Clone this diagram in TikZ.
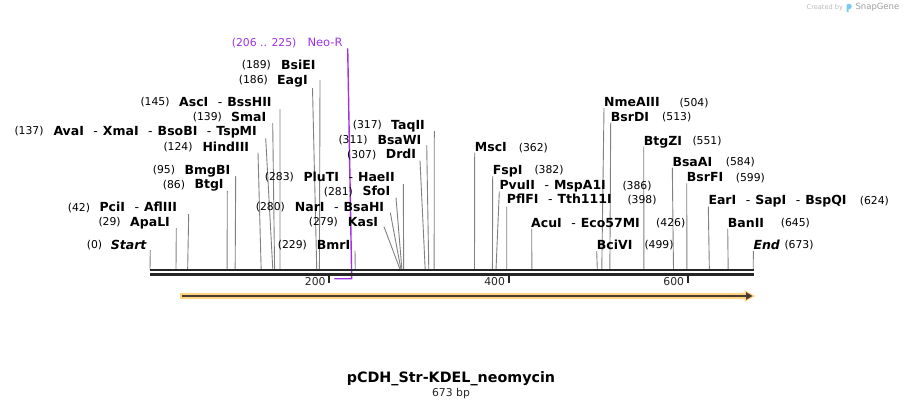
\documentclass[tikz,border=0pt]{standalone}
\usepackage{fontspec}
\setmainfont{DejaVu Sans}
\definecolor{leadgray}{RGB}{128,128,128}
\definecolor{axisdark}{RGB}{38,38,38}
\definecolor{neopurple}{RGB}{160,50,230}
\definecolor{orangeband}{RGB}{255,210,128}
\definecolor{arrowdark}{RGB}{72,60,48}
\definecolor{logoblue}{RGB}{125,200,240}
\newcommand\dsep{\hspace{9.5pt}\textmd{-}\hspace{5pt}}
\begin{document}
\begin{tikzpicture}[x=1pt,y=-1pt,
  num/.style={anchor=west,inner sep=0pt,text height=7.9pt,text depth=0pt,font=\fontsize{10.8}{12}\selectfont,text=black},
  lab/.style={anchor=west,inner sep=0pt,text height=9pt,text depth=0pt,font=\bfseries\fontsize{12.5}{14}\selectfont,text=black},
  leader/.style={draw=leadgray,line width=0.9pt},
  axisline/.style={draw=axisdark,line width=2.2pt},
  tickmark/.style={draw=axisdark,line width=1.8pt},
  ticklab/.style={anchor=east,inner sep=0pt,text height=7.9pt,text depth=0pt,font=\fontsize{10.8}{12}\selectfont,text=axisdark}]
\path[use as bounding box] (0,0) rectangle (904,408);

% Neo-R feature
\node[num,text=neopurple] (neonum) at (231.7,42.3) {(206 .. 225)};
\node[anchor=west,inner sep=0pt,text height=8.4pt,text depth=0pt,font=\fontsize{11.5}{13}\selectfont,text=neopurple] (neolab) at (307.3,42.3) {Neo-R};
\coordinate (neotop) at (347.7,48.3);
\coordinate (neobot) at (351.7,278.7);
\coordinate (neoleft) at (334.3,278.7);
\draw[neopurple,line width=1.4pt] (neotop) -- (neobot) -- (neoleft);

% enzyme sites
\foreach \id/\nx/\nt/\lx/\lt/\y/\sx/\sy/\bp in {
 bsiei/241.7/(189)/281/BsiEI/64.7/320/80/189,
 eagi/238.7/(186)/277/EagI/80/312.5/88/186,
 asci/140.3/(145)/179/AscI\dsep BssHII/101.7/280/109/145,
 smai/192.7/(139)/231/SmaI/117/272.7/123/139,
 avai/14.3/(137)/53.3/AvaI\dsep XmaI\dsep BsoBI\dsep TspMI/130.7/265.7/138/137,
 hind/163.3/(124)/202.3/HindIII/146.7/258/152.7/124,
 bmgbi/152.7/(95)/184.3/BmgBI/170/235.7/176/95,
 btgi/162.7/(86)/194.3/BtgI/184.3/227.3/191/86,
 pcii/67.7/(42)/99.3/PciI\dsep AflIII/207.3/188.7/214/42,
 apali/98.3/(29)/130/ApaLI/221.7/176.3/228/29,
 start/86.7/(0)/110.7/\textit{Start}/244.7/150.3/250/0,
 pluti/264.7/(283)/303.3/PluTI\dsep HaeII/177/403.3/184/283,
 sfoi/323.7/(281)/362.3/SfoI/191.3/396/197.7/281,
 nari/255.7/(280)/294.7/NarI\dsep BsaHI/206.7/390.3/212.7/280,
 kasi/308.7/(279)/347.7/KasI/221.7/384/226.7/279,
 bmri/277.7/(229)/316.7/BmrI/244.7/355/250.7/229,
 taqii/352.7/(317)/391/TaqII/125/434.3/131/317,
 bsawi/338.3/(311)/377.3/BsaWI/140/426.7/145/311,
 drdi/347/(307)/385.7/DrdI/154.3/420/160.7/307,
 msci/518.7/(362)/474.7/MscI/147.3/474.7/152.7/362,
 nme/679.3/(504)/604/NmeAIII/102.3/604/108/504,
 bsrdi/662/(513)/610.7/BsrDI/116.7/610.7/122.7/513,
 btgzi/692.3/(551)/643.7/BtgZI/140.7/643.7/146.7/551,
 bsaai/725.7/(584)/672.3/BsaAI/161.7/672.3/167.7/584,
 bsrfi/735.7/(599)/686.7/BsrFI/177.3/686.7/183.3/599,
 fspi/534.3/(382)/492.7/FspI/170/492.7/176/382,
 pvuii/622.3/(386)/499.3/PvuII\dsep MspA1I/185.3/499.3/191.7/386,
 pflfi/627.3/(398)/506.7/PflFI\dsep Tth111I/199.3/506.7/206.7/398,
 eari/859.7/(624)/708.3/EarI\dsep SapI\dsep BspQI/200.3/708.3/206.7/624,
 acui/656/(426)/531/AcuI\dsep Eco57MI/222.7/531.7/228.7/426,
 banii/780.7/(645)/727.7/BanII/222.7/727.7/228.7/645,
 bcivi/644.3/(499)/596.7/BciVI/245/596.7/251/499,
 end/784.3/(673)/753.3/\textit{End}/245/753.3/251/673}{
  \pgfmathsetmacro\sitex{150+\bp*0.8964}
  \node[num] (num-\id) at (\nx,\y) {\nt};
  \node[lab] (lab-\id) at (\lx,\y) {\lt};
  \coordinate (from-\id) at (\sx,\sy);
  \coordinate (site-\id) at (\sitex,269.5);
  \draw[leader] (from-\id) -- (site-\id);
}

% sequence axis
\coordinate (axL1) at (150,270.3);
\coordinate (axR1) at (753.7,270.3);
\coordinate (axL2) at (150,274.5);
\coordinate (axR2) at (753.7,274.5);
\draw[axisline] (axL1) -- (axR1);
\draw[axisline] (axL2) -- (axR2);

% ticks
\foreach \v/\tx in {200/329.3,400/508.6,600/687.8}{
  \coordinate (tk\v a) at (\tx,275.5);
  \coordinate (tk\v b) at (\tx,282.7);
  \draw[tickmark] (tk\v a) -- (tk\v b);
  \node[ticklab] (tl\v) at (\tx-3.5,282) {\v};
}

% feature arrow
\coordinate (arrS) at (180,296);
\coordinate (arrE) at (748,296);
\draw[orangeband,line width=5.4pt] (arrS) -- (arrE);
\fill[orangeband] (744.5,290) -- (755,296) -- (744.5,302) -- cycle;
\draw[arrowdark,line width=2pt] ([xshift=1.5pt]arrS) -- ([xshift=-1pt]arrE);
\fill[arrowdark] (746,292.2) -- (752.5,296) -- (746,299.8) -- cycle;

% title
\node[anchor=base,inner sep=0pt,font=\bfseries\fontsize{14.3}{16}\selectfont] (title) at (451,382.8) {pCDH\_Str-KDEL\_neomycin};
\node[anchor=base,inner sep=0pt,font=\fontsize{10.8}{12}\selectfont,text=axisdark] (size) at (451,396.6) {673 bp};

% credit
\node[anchor=west,inner sep=0pt,font=\fontsize{6.6}{8}\selectfont,text=black!28] (cred) at (806.5,7.3) {Created by};
\fill[logoblue] (846.5,12) -- (846.5,5.5) to[out=90,in=180] (849,3.8) to[out=0,in=90] (851.8,6.5) to[out=-90,in=0] (849,9.2) -- (848.6,9.2) -- (848.6,12) -- cycle;
\node[anchor=west,inner sep=0pt,font=\fontsize{8.5}{10}\selectfont,text=black!38] (sg) at (855.3,7.3) {SnapGene};
\end{tikzpicture}
\end{document}
